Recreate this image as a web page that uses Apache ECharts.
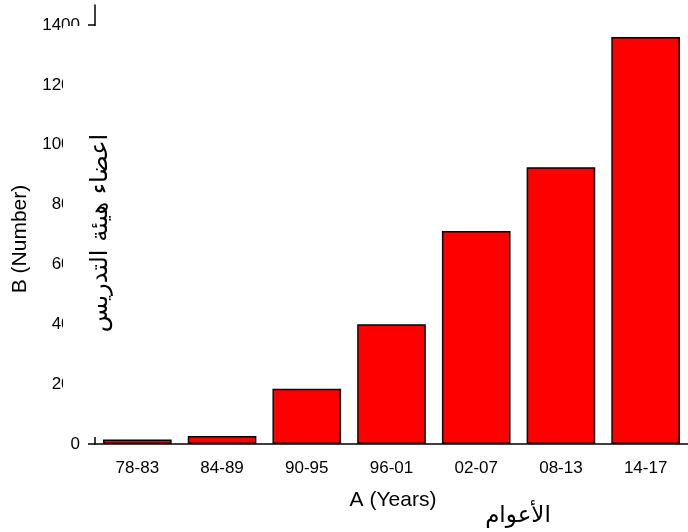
<!DOCTYPE html>
<html>
<head>
<meta charset="utf-8">
<script src="https://cdn.jsdelivr.net/npm/echarts@6/dist/echarts.min.js"></script>
<style>
html,body{margin:0;padding:0;background:#fff;}
#c{width:688px;height:532px;}
</style>
</head>
<body>
<div id="c"></div>
<script>
var categories = ['78-83', '84-89', '90-95', '96-01', '02-07', '08-13', '14-17'];
var values = [15, 27, 185, 400, 712, 925, 1360];
var yTicks = [0, 200, 400, 600, 800, 1000, 1200, 1400];
var xTitle = 'A (Years)';
var xTitleAr = 'الأعوام';
var yTitle = 'B (Number)';
var yTitleAr = 'اعضاء هيئة التدريس';

var chart = echarts.init(document.getElementById('c'));
var font = 'Liberation Sans, Arial, sans-serif';
chart.setOption({
  animation: false,
  backgroundColor: '#fff',
  grid: { left: 95, top: 5, width: 598, height: 439, containLabel: false },
  xAxis: [{
    type: 'category',
    data: categories,
    position: 'bottom',
    axisLine: { lineStyle: { color: '#000', width: 1.5 } },
    axisTick: { alignWithLabel: true, length: 8, lineStyle: { color: '#000', width: 1.5 } },
    axisLabel: { color: '#000', fontSize: 17, fontFamily: font, margin: 16 },
    splitLine: { show: false }
  }, {
    type: 'category',
    data: categories,
    position: 'bottom',
    axisLine: { show: false },
    axisTick: { length: 5, lineStyle: { color: '#000', width: 1.5 } },
    axisLabel: { show: false },
    splitLine: { show: false }
  }],
  yAxis: {
    type: 'value',
    min: 0,
    max: 1467,
    interval: 200,
    axisLine: { show: true, lineStyle: { color: '#000', width: 1.5 } },
    axisTick: { show: true, length: 7, customValues: yTicks, lineStyle: { color: '#000', width: 1.5 } },
    axisLabel: { color: '#000', fontSize: 17, fontFamily: font, margin: 15, customValues: yTicks,
      formatter: function (v) { return String(v); } },
    splitLine: { show: false }
  },
  series: [{
    type: 'bar',
    data: values,
    barCategoryGap: '19%',
    itemStyle: { color: '#ff0000', borderColor: '#000', borderWidth: 1.5 }
  }],
  graphic: [
    { type: 'rect', z: 100, shape: { x: 63, y: 26, width: 55, height: 411 }, style: { fill: '#fff' } },
    { type: 'text', z: 101, x: 101, y: 233, rotation: Math.PI / 2,
      style: { text: yTitleAr, fontSize: 24, fontFamily: 'DejaVu Sans', fill: '#000', align: 'center', verticalAlign: 'middle' } },
    { type: 'text', z: 101, x: 20, y: 239, rotation: Math.PI / 2,
      style: { text: yTitle, fontSize: 21, fontFamily: font, fill: '#000', align: 'center', verticalAlign: 'middle' } },
    { type: 'text', z: 101, x: 393, y: 500,
      style: { text: xTitle, fontSize: 21, fontFamily: font, fill: '#000', align: 'center', verticalAlign: 'middle' } },
    { type: 'text', z: 101, x: 518, y: 516,
      style: { text: xTitleAr, fontSize: 23, fontFamily: 'DejaVu Sans', fill: '#000', align: 'center', verticalAlign: 'middle' } }
  ]
});
</script>
</body>
</html>
